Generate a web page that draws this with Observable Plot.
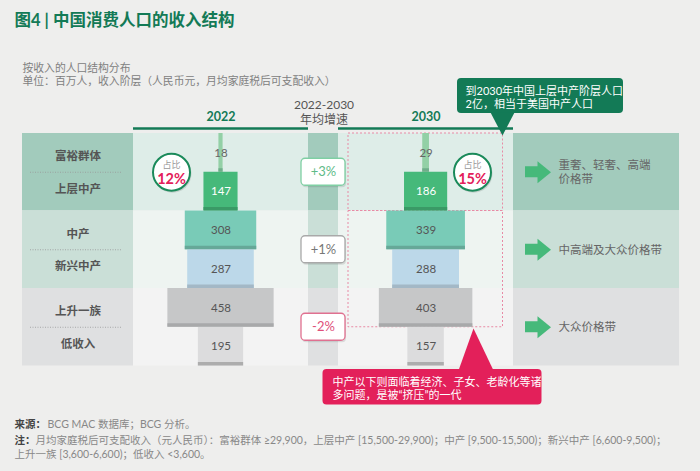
<!DOCTYPE html>
<html><head><meta charset="utf-8">
<script src="https://cdn.jsdelivr.net/npm/d3@7"></script>
<script src="https://cdn.jsdelivr.net/npm/@observablehq/plot@0.6"></script>
<style>html,body{margin:0;padding:0;background:#eeeeed;} svg{display:block}</style>
</head><body><div id="chart"></div>
<script>
// ---------- data ----------
const tiers = ["富裕群体","上层中产","中产","新兴中产","上升一族","低收入"];
const pop2022 = [18,147,308,287,458,195];
const pop2030 = [29,186,339,288,403,157];
const years = ["2022","2030"];
const growthRates = ["+3%","+1%","-2%"];
const shareLabel = "占比";
const shares = ["12%","15%"];
const priceBands = ["重奢、轻奢、高端\n价格带","中高端及大众价格带","大众价格带"];
const titleText = "图4 | 中国消费人口的收入结构";
const subtitleLines = ["按收入的人口结构分布","单位：百万人，收入阶层（人民币元，月均家庭税后可支配收入）"];
const growthHeader = "2022-2030\n年均增速";
const noteGreen = "到2030年中国上层中产阶层人口\n2亿，相当于美国中产人口";
const notePink = "中产以下则面临着经济、子女、老龄化等诸\n多问题，是被“挤压”的一代";
const sourceLabel = "来源：";
const sourceText = "BCG MAC 数据库；BCG 分析。";
const noteLabel = "注：";
const noteLines = ["月均家庭税后可支配收入（元人民币）：富裕群体 ≥29,900，上层中产 [15,500-29,900)；中产 [9,500-15,500)；新兴中产 [6,600-9,500)；",
                   "上升一族 [3,600-6,600)；低收入 <3,600。"];

// ---------- layout / style ----------
const W = 700, H = 471, K = 0.232;           // px per million people
const u = p => p / K;                          // pixel -> x units
const TOP = 133, BOT = 365.5, SUB = (BOT - TOP) / 6;
const center = {"2022": 220.5, "2030": 425.6};
const green = "#137a56";
const fills  = ["#93d0a6","#46b97a","#79cbb7","#bcd8e9","#c6c7c8","#dcdcdd"];
const shades = ["#6fae8a","#3a9a66","#66a898","#a3b8c6","#a8a9aa","#adadad"];
const lblCol = ["#666","#fff","#555","#555","#555","#555"];
const darkBand  = ["#a2cbbc","#cadfd7","#dfe0e1"];
const lightBand = ["#deede8","#eef4f1","#f3f3f3"];
const cols = [[22,133,"d"],[133,308,"l"],[308,338,"d"],[338,513,"l"],[513,679,"d"]];
const gTop = g => TOP + 2*g*SUB, gMid = g => TOP + (2*g+1)*SUB, gBot = g => TOP + (2*g+2)*SUB;

const bands = [0,1,2].flatMap(g => cols.map(([a,b,t]) => ({x1:u(a), x2:u(b), y1:gTop(g), y2:gBot(g), fill: t==="d" ? darkBand[g] : lightBand[g]})));

const bars = years.flatMap((yr, j) => (j ? pop2030 : pop2022).map((v, i) => ({
  year: yr, i, v,
  x1: u(center[yr]) - v/2, x2: u(center[yr]) + v/2,
  y1: TOP + i*SUB, y2: TOP + (i+1)*SUB
})));

const leftLabels = tiers.map((t, i) => ({t, y: gTop(Math.floor(i/2)) + (i%2 ? 0.72 : 0.3) * 2*SUB}));

const growth = growthRates.map((r, g) => ({r, g, y: gMid(g)}));
const gStroke = ["#7fcfa3","#a9a9a9","#e07090"];
const gText = ["#5fbb88","#777","#e0507a"];

const badges = years.map((yr, j) => ({x: u(j ? 472 : 171), y: gMid(0), s: shares[j]}));

const arrows = [0,1,2].map(g => ({g, y: gMid(g)}));
const arrowHeads = arrows.flatMap(a => [[537,a.y-11],[550.5,a.y],[537,a.y+11]].map(([x,y]) => ({g:a.g, x:u(x), y})));

const tri = (pts, id) => pts.map(([x,y]) => ({id, x:u(x), y}));
const greenTri = tri([[490,112],[514,112],[502,135]], "g");
const pinkTri = tri([[458,370],[493,370],[473,328]], "p");

const font = "Lato, 'Noto Sans CJK SC', sans-serif";

const chart = Plot.plot({
  width: W, height: H, margin: 0,
  x: {domain: [0, u(W)], range: [0, W], axis: null},
  y: {domain: [0, H], range: [0, H], axis: null},
  style: {background: "#eeeeed", fontFamily: font, overflow: "visible"},
  marks: [
    // title & subtitle
    Plot.text([titleText], {x: u(14), y: 20, text: d => d, textAnchor: "start", fontSize: 16.5, fontWeight: "bold", fill: green}),
    Plot.text(subtitleLines, {x: u(22), y: (d, i) => 68 + i*13.5, text: d => d, textAnchor: "start", fontSize: 10.8, fill: "#808080"}),
    // headers
    Plot.text(years, {x: d => u(center[d]), y: 116, text: d => d, fontSize: 12.5, fontWeight: "bold", fill: green}),
    Plot.ruleY([128], {x1: u(133), x2: u(308), stroke: green, strokeWidth: 2.5}),
    Plot.ruleY([128], {x1: u(338), x2: u(513), stroke: green, strokeWidth: 2.5}),
    Plot.text([growthHeader], {x: u(323.5), y: 111, text: d => d, fontSize: 12, fill: "#555", lineHeight: 1.3}),
    // bands
    Plot.rect(bands, {x1: "x1", x2: "x2", y1: "y1", y2: "y2", fill: "fill"}),
    // left labels + separators
    Plot.ruleY([0,1,2].map(gMid), {x1: u(30), x2: u(122), stroke: "#999", strokeDasharray: "1,1.5", strokeWidth: 0.8}),
    Plot.text(leftLabels, {x: u(77.5), y: "y", text: "t", fontSize: 11.5, fontWeight: "bold", fill: "#555"}),
    // pink dotted frames (2030)
    Plot.rect([{y1: gTop(0), y2: gBot(0)}, {y1: gTop(1), y2: TOP + 5*SUB}], {x1: u(348), x2: u(502.5), y1: "y1", y2: "y2", fill: "none", stroke: "#e88aa5", strokeDasharray: "2,2", strokeWidth: 1}),
    // bars
    Plot.rect(bars, {x1: "x1", x2: "x2", y1: "y1", y2: "y2", fill: d => fills[d.i]}),
    Plot.rect(bars, {x1: "x1", x2: "x2", y1: d => d.y2 - 3.5, y2: "y2", fill: d => shades[d.i]}),
    Plot.text(bars, {x: d => u(center[d.year]), y: d => (d.y1 + d.y2)/2, text: d => String(d.v), fontSize: 11.5, fill: d => lblCol[d.i]}),
    // share badges
    Plot.dot(badges, {x: "x", y: "y", r: 19, fill: "#000", fillOpacity: 0.12, dx: 1, dy: 1.5}),
    Plot.dot(badges, {x: "x", y: "y", r: 18.5, fill: "#fff", stroke: "#1a8a5a", strokeWidth: 2}),
    Plot.text(badges, {x: "x", y: d => d.y - 7, text: () => shareLabel, fontSize: 9, fill: "#999"}),
    Plot.text(badges, {x: "x", y: d => d.y + 7.5, text: "s", fontSize: 14.5, fontWeight: "bold", fill: "#e3205a"}),
    // growth boxes
    Plot.rect(growth, {x1: u(302), x2: u(346), y1: d => d.y - 12.5, y2: d => d.y + 15.5, rx: 4, fill: "#000", fillOpacity: 0.1}),
    Plot.rect(growth, {x1: u(301), x2: u(345), y1: d => d.y - 13.5, y2: d => d.y + 13.5, rx: 4, fill: "#fff", stroke: d => gStroke[d.g], strokeWidth: 1.3}),
    Plot.text(growth, {x: u(323), y: "y", text: "r", fontSize: 13, fill: d => gText[d.g]}),
    // arrows + price bands
    Plot.rect(arrows, {x1: u(525), x2: u(538), y1: d => d.y - 5.5, y2: d => d.y + 5.5, fill: "#46b97a"}),
    Plot.line(arrowHeads, {x: "x", y: "y", z: "g", fill: "#46b97a", stroke: "none", curve: "linear-closed"}),
    Plot.text(arrows, {x: u(558), y: d => d.g === 0 ? d.y - 0.5 : d.y, text: d => priceBands[d.g], textAnchor: "start", fontSize: 11.5, fill: "#666", lineHeight: 1.15}),
    // green callout
    Plot.rect([0], {x1: u(457), x2: u(623), y1: 78, y2: 113, rx: 4, fill: green}),
    Plot.line(greenTri, {x: "x", y: "y", z: "id", fill: green, stroke: "none", curve: "linear-closed"}),
    Plot.text([noteGreen], {x: u(465), y: 96.5, text: d => d, textAnchor: "start", fontSize: 11, fill: "#fff", lineHeight: 1.2}),
    // pink callout
    Plot.rect([0], {x1: u(322.5), x2: u(541.5), y1: 369, y2: 404.5, rx: 4, fill: "#e3205a"}),
    Plot.line(pinkTri, {x: "x", y: "y", z: "id", fill: "#e3205a", stroke: "none", curve: "linear-closed"}),
    Plot.text([notePink], {x: u(332), y: 388, text: d => d, textAnchor: "start", fontSize: 11, fill: "#fff", lineHeight: 1.15}),
    // footnotes
    Plot.text([sourceLabel], {x: u(14), y: 424, text: d => d, textAnchor: "start", fontSize: 10.5, fontWeight: "bold", fill: "#444"}),
    Plot.text([sourceText], {x: u(47), y: 424, text: d => d, textAnchor: "start", fontSize: 10.5, fill: "#888"}),
    Plot.text([noteLabel], {x: u(14), y: 440, text: d => d, textAnchor: "start", fontSize: 10.5, fontWeight: "bold", fill: "#444"}),
    Plot.text([noteLines[0]], {x: u(35), y: 440, text: d => d, textAnchor: "start", fontSize: 10.5, fill: "#888"}),
    Plot.text([noteLines[1]], {x: u(14), y: 454, text: d => d, textAnchor: "start", fontSize: 10.5, fill: "#888"})
  ]
});
document.getElementById("chart").appendChild(chart);
</script></body></html>
